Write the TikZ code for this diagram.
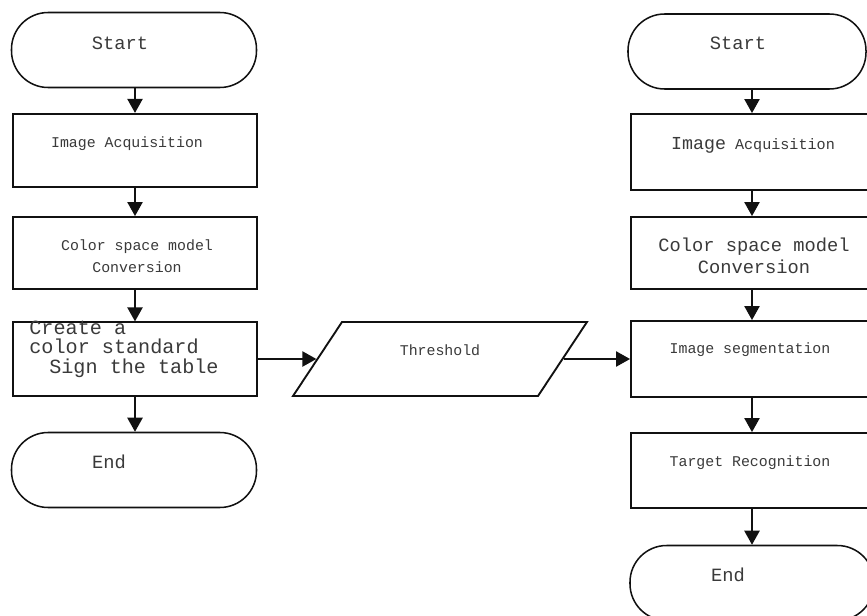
\documentclass[tikz,border=0pt]{standalone}
\usepackage{fontspec}
\setmonofont{Liberation Mono}
\usetikzlibrary{arrows.meta, shapes.geometric}
\definecolor{inkgray}{HTML}{3A3A3A}
\definecolor{edge}{HTML}{111111}

\begin{document}
\begin{tikzpicture}[x=0.03cm, y=-0.03cm,
  >={Triangle[length=12pt, width=13pt]},
  every node/.style={inner sep=0pt},
  box/.style={draw=edge, line width=1.6pt, rectangle, minimum width=7.3cm, minimum height=2.2cm},
  term/.style={draw=edge, line width=1.3pt, rectangle, rounded corners=1.1cm, minimum width=7.35cm, minimum height=2.25cm},
  io/.style={draw=edge, line width=1.6pt, trapezium, trapezium left angle=56.5, trapezium right angle=123.5,
    inner xsep=2.94cm, inner ysep=1.11cm},
  flow/.style={->, draw=edge, line width=1.5pt},
  txt/.style={text=inkgray, font=\ttfamily\fontsize{12.7}{19}\selectfont},
  big/.style={text=inkgray, font=\ttfamily\fontsize{16}{19}\selectfont}]

% Page
\useasboundingbox (0,0) rectangle (867,616);
\clip (0,0) rectangle (867,616);
\fill[white] (0,0) rectangle (867,616);

%% Left column: building the colour table
\node[term, label={[big, shift={(-14,-7)}]center:Start}] (ls) at (134,50) {};
\node[box, label={[txt, shift={(-8,-7)}]center:Image Acquisition}] (la) at (135,150.5) {};
\node[box, minimum height=2.16cm, label={[txt, align=center, shift={(2,3)}]center:{Color space model\\Conversion}}] (lc) at (135,253) {};
\node[box, label={[big, font=\ttfamily\fontsize{17.2}{16.6}\selectfont, align=left, shift={(-11,-10)}]center:{Create a\\color standard\\\hspace{17pt}Sign the table}}] (lt) at (135,359) {};
\node[term, label={[big, shift={(-25,-8)}]center:End}] (le) at (134,470) {};

\draw[flow] (la.north |- ls.south) -- (la.north);
\draw[flow] (la) -- (lc);
\draw[flow] (lc) -- (lt);
\draw[flow] (lt.south) -- (lt.south |- le.north);

%% Threshold input between the two columns
\node[io, label={[txt, shift={(0,-9)}]center:Threshold}] (th) at (440,359) {};

%% Right column: recognising targets
\node[term, minimum width=7.14cm, label={[big, shift={(-9,-8)}]center:Start}] (rs) at (747,51.5) {};
\node[box, minimum width=7.26cm, minimum height=2.28cm,
  label={[txt, font=\ttfamily\fontsize{12.9}{19}\selectfont, shift={(1,-7)}]center:{{\fontsize{15.6}{19}\selectfont Image} Acquisition}}] (ra) at (752,152) {};
\node[box, minimum width=7.26cm, minimum height=2.16cm,
  label={[big, align=center, shift={(2,3)}]center:{Color space model\\Conversion}}] (rc) at (752,253) {};
\node[box, minimum width=7.26cm, minimum height=2.28cm,
  label={[txt, shift={(-2,-9)}]center:Image segmentation}] (rg) at (752,359) {};
\node[box, minimum width=7.26cm, minimum height=2.25cm,
  label={[txt, shift={(-2,-7.5)}]center:Target Recognition}] (rr) at (752,470.5) {};
\node[term, minimum width=7.32cm, label={[big, shift={(-24,-8)}]center:End}] (re) at (752,583) {};

\draw[flow] (ra.north |- rs.south) -- (ra.north);
\draw[flow] (ra) -- (rc);
\draw[flow] (rc) -- (rg);
\draw[flow] (rg) -- (rr);
\draw[flow] (rr) -- (re);

% Threshold links
\draw[flow] (lt.east) -- (th.left side);
\draw[flow] (th.right side) -- (rg.west);

\end{tikzpicture}
\end{document}
